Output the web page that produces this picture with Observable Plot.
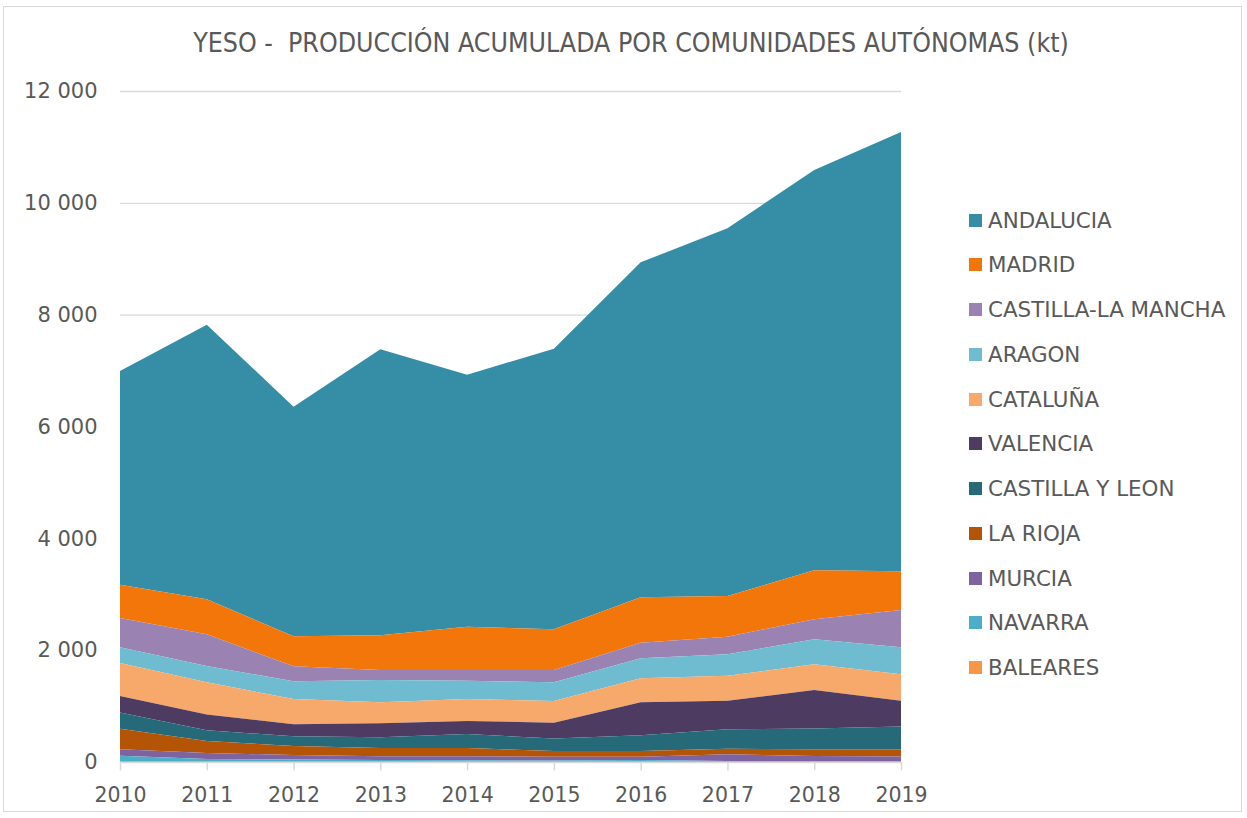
<!DOCTYPE html>
<html>
<head>
<meta charset="utf-8">
<script src="https://cdn.jsdelivr.net/npm/d3@7"></script>
<script src="https://cdn.jsdelivr.net/npm/@observablehq/plot@0.6"></script>
<style>
  html, body { margin: 0; padding: 0; background: #fff; }
  #wrap { position: relative; width: 1247px; height: 818px; font-family: "DejaVu Sans", Verdana, sans-serif; }
  #border { position: absolute; left: 3px; top: 6px; width: 1239px; height: 806px; border: 1px solid #d9d9d9; box-sizing: border-box; pointer-events: none; }
  #title { position: absolute; left: 0; top: 27px; width: 1262px; text-align: center; font-family: "DejaVu Sans Condensed", "DejaVu Sans", sans-serif; font-stretch: condensed; font-size: 26.5px; line-height: 32px; color: #595959; white-space: pre; }
  #legend { position: absolute; left: 969px; top: 0; }
  .item { position: absolute; left: 0; height: 24px; display: flex; align-items: center; white-space: nowrap; font-size: 21.4px; color: #595959; }
  .sw { width: 13px; height: 13px; margin-right: 6px; flex: none; }
  #chart { position: absolute; left: 0; top: 0; }
</style>
</head>
<body>
<div id="wrap">
  <div id="chart"></div>
  <div id="title"></div>
  <div id="legend"></div>
  <div id="border"></div>
</div>
<script>
const title = "YESO -  PRODUCCIÓN ACUMULADA POR COMUNIDADES AUTÓNOMAS (kt)";
const years = [2010, 2011, 2012, 2013, 2014, 2015, 2016, 2017, 2018, 2019];
const yTicks = [0, 2000, 4000, 6000, 8000, 10000, 12000];

// legend order (top of stack first)
const regions = ["ANDALUCIA", "MADRID", "CASTILLA-LA MANCHA", "ARAGON", "CATALUÑA", "VALENCIA", "CASTILLA Y LEON", "LA RIOJA", "MURCIA", "NAVARRA", "BALEARES"];
const colors  = ["#368ea6", "#f3760b", "#9a82b3", "#6fbcd0", "#f7a96b", "#4e3b62", "#266a7a", "#b45407", "#7f63a1", "#4badc6", "#f79646"];

const andalucia        = [3821, 4911, 4106, 5114, 4506, 5018, 5991, 6575, 7159, 7856];
const madrid           = [596, 626, 537, 621, 775, 728, 811, 728, 876, 692];
const castillaLaMancha = [524, 566, 268, 179, 191, 220, 280, 315, 358, 667];
const aragon           = [281, 292, 316, 398, 327, 334, 357, 383, 447, 483];
const cataluna         = [590, 576, 453, 376, 394, 388, 429, 446, 459, 471];
const valencia         = [295, 283, 214, 250, 233, 283, 588, 512, 688, 460];
const castillaYLeon    = [292, 191, 174, 192, 250, 223, 283, 347, 373, 410];
const laRioja          = [366, 215, 161, 148, 148, 102, 102, 101, 120, 129];
const murcia           = [117, 105, 80, 67, 72, 70, 59, 119, 89, 80];
const navarra          = [105, 50, 40, 30, 25, 20, 31, 13, 13, 13];
const baleares         = [5, 5, 5, 5, 5, 5, 5, 5, 5, 5];

const series = [andalucia, madrid, castillaLaMancha, aragon, cataluna, valencia, castillaYLeon, laRioja, murcia, navarra, baleares];

const rows = [];
regions.forEach((r, i) => years.forEach((y, j) => rows.push({region: r, year: y, value: series[i][j]})));
const stackOrder = regions.slice().reverse(); // bottom first

const fmt = d => d3.format(",")(d).replace(/,/g, " ");

const chart = Plot.plot({
  width: 1247,
  height: 818,
  marginLeft: 120,
  marginRight: 346,
  marginTop: 91,
  marginBottom: 56,
  style: {fontFamily: "DejaVu Sans, Verdana, sans-serif", background: "transparent"},
  x: {domain: [2010, 2019], axis: null},
  y: {domain: [0, 12000], axis: null},
  color: {domain: regions, range: colors},
  marks: [
    Plot.ruleY(yTicks.filter(d => d > 0), {x1: 2010, x2: 2019, stroke: "#d9d9d9", strokeWidth: 1.3}),
    Plot.areaY(rows, {x: "year", y: "value", z: "region", fill: "region", order: stackOrder}),
    Plot.ruleY([0], {x1: 2010, x2: 2019, stroke: "#d9d9d9", strokeWidth: 1.5}),
    Plot.ruleX(years, {x: d => d, y1: 0, y2: -150, stroke: "#d9d9d9", strokeWidth: 1.5}),
    Plot.text(years, {x: d => d, y: 0, dy: 33, text: d => String(d), fontSize: 20.5, fill: "#595959"}),
    Plot.text(yTicks, {x: 2010, y: d => d, dx: -23, textAnchor: "end", text: fmt, fontSize: 21, fill: "#595959"})
  ]
});
document.getElementById("chart").appendChild(chart);

document.getElementById("title").textContent = title;

const legend = document.getElementById("legend");
regions.forEach((r, i) => {
  const it = document.createElement("div");
  it.className = "item";
  it.style.top = (220 - 12 + i * 44.75) + "px";
  const sw = document.createElement("span");
  sw.className = "sw";
  sw.style.background = colors[i];
  const tx = document.createElement("span");
  tx.textContent = r;
  it.appendChild(sw);
  it.appendChild(tx);
  legend.appendChild(it);
});
</script>
</body>
</html>
